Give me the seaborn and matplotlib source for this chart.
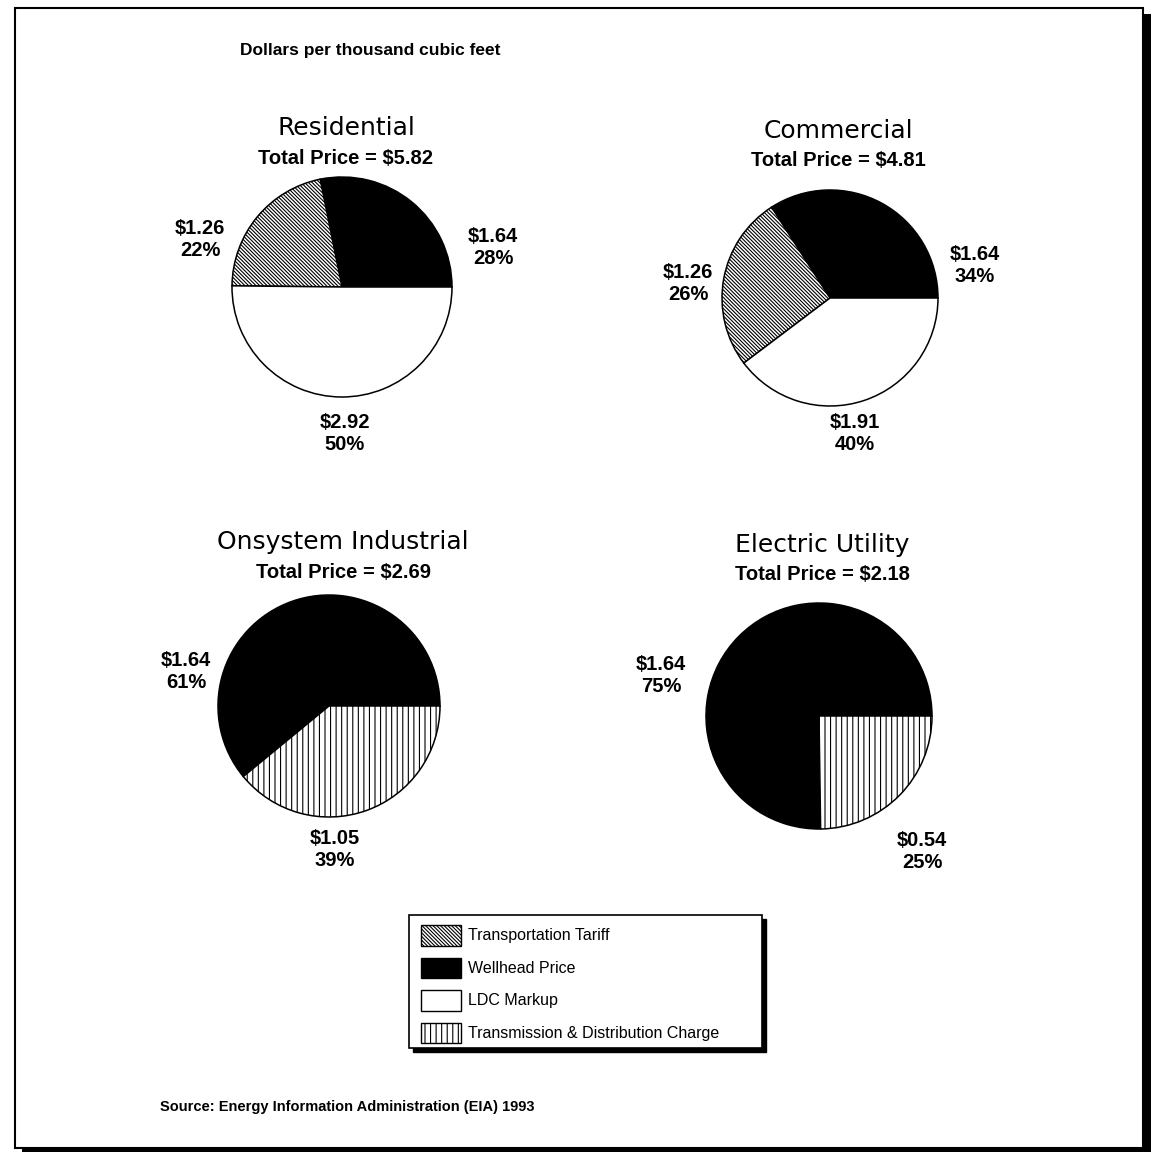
import matplotlib
matplotlib.use("Agg")
import matplotlib.pyplot as plt
from matplotlib.patches import Patch, Rectangle
import seaborn as sns

# ---- data (dollars per thousand cubic feet) ----
sectors = ["Residential", "Commercial", "Onsystem Industrial", "Electric Utility"]
components = ["Transportation Tariff", "Wellhead Price", "LDC Markup",
              "Transmission & Distribution Charge"]

residential_parts = ["Wellhead Price", "Transportation Tariff", "LDC Markup"]
residential_vals = [1.64, 1.26, 2.92]

commercial_parts = ["Wellhead Price", "Transportation Tariff", "LDC Markup"]
commercial_vals = [1.64, 1.26, 1.91]

industrial_parts = ["Wellhead Price", "Transmission & Distribution Charge"]
industrial_vals = [1.64, 1.05]

electric_parts = ["Wellhead Price", "Transmission & Distribution Charge"]
electric_vals = [1.64, 0.54]

source_note = "Source: Energy Information Administration (EIA) 1993"
units_note = "Dollars per thousand cubic feet"

# ---- styling ----
sns.set_theme(style="white")
plt.rcParams["font.family"] = ["Liberation Sans", "DejaVu Sans"]
plt.rcParams["text.color"] = "black"
plt.rcParams["hatch.linewidth"] = 0.8
plt.rcParams["hatch.color"] = "black"

component_style = {
    "Transportation Tariff": dict(facecolor="white", hatch="\\" * 9),
    "Wellhead Price": dict(facecolor="black", hatch=None),
    "LDC Markup": dict(facecolor="white", hatch=None),
    "Transmission & Distribution Charge": dict(facecolor="white", hatch="|||"),
}

W, H = 1152, 1153
fig = plt.figure(figsize=(W / 100, H / 100), dpi=100)
ax = fig.add_axes([0, 0, 1, 1])


def Y(y):
    return H - y


# layout of each pie: centre, radius, title/total positions, label positions
layout = {
    "Residential": dict(center=(342, 287), r=110, title=(346, 128), total=(345, 158),
                        labels=[(493, 247), (200, 240), (345, 433)]),
    "Commercial": dict(center=(830, 298), r=108, title=(838, 131), total=(838, 160),
                       labels=[(975, 266), (688, 284), (855, 434)]),
    "Onsystem Industrial": dict(center=(329, 706), r=111, title=(343, 542), total=(343, 572),
                                labels=[(186, 671), (335, 849)]),
    "Electric Utility": dict(center=(819, 716), r=113, title=(822, 545), total=(822, 574),
                             labels=[(661, 675), (922, 852)]),
}

pie_data = {
    "Residential": (residential_parts, residential_vals),
    "Commercial": (commercial_parts, commercial_vals),
    "Onsystem Industrial": (industrial_parts, industrial_vals),
    "Electric Utility": (electric_parts, electric_vals),
}

for sector in sectors:
    parts, vals = pie_data[sector]
    lay = layout[sector]
    cx, cy = lay["center"]
    total = sum(vals)
    ax.pie(vals,
           colors=[component_style[p]["facecolor"] for p in parts],
           hatch=[component_style[p]["hatch"] or "" for p in parts],
           startangle=0, counterclock=True,
           center=(cx, Y(cy)), radius=lay["r"], frame=True,
           wedgeprops=dict(edgecolor="black", linewidth=1.1))
    tx, ty = lay["title"]
    ax.text(tx, Y(ty), sector, ha="center", va="center",
            fontsize=18, family="DejaVu Sans")
    sx, sy = lay["total"]
    ax.text(sx, Y(sy), f"Total Price = ${total:.2f}", ha="center", va="center",
            fontsize=14.5, fontweight="bold")
    for v, (lx, ly) in zip(vals, lay["labels"]):
        ax.text(lx, Y(ly), f"${v:.2f}\n{100 * v / total:.0f}%", ha="center",
                va="center", fontsize=14.5, fontweight="bold", linespacing=1.2)

# header and source notes
ax.text(240, Y(50), units_note, ha="left", va="center", fontsize=12.5, fontweight="bold")
ax.text(160, Y(1107), source_note, ha="left", va="center", fontsize=10.5,
        fontweight="bold")

# legend box with a drop shadow
bx0, by0, bx1, by1 = 409, 915, 762, 1048
ax.add_patch(Rectangle((bx0 + 4, Y(by1 + 4)), bx1 - bx0, by1 - by0,
                       facecolor="black", edgecolor="black", zorder=3))
ax.add_patch(Rectangle((bx0, Y(by1)), bx1 - bx0, by1 - by0,
                       facecolor="white", edgecolor="black", linewidth=1.2, zorder=4))
handles = [Patch(facecolor=component_style[c]["facecolor"], edgecolor="black",
                 hatch=component_style[c]["hatch"], label=c, linewidth=1.0)
           for c in components]
leg = ax.legend(handles=handles, loc="upper left", bbox_to_anchor=(421, Y(925)),
                bbox_transform=ax.transData, frameon=False, borderpad=0,
                borderaxespad=0, handlelength=2.5, handleheight=1.6,
                labelspacing=0.75, handletextpad=0.45, fontsize=11.5)
leg.set_zorder(5)

# outer frame with heavy right/bottom edge
ax.add_patch(Rectangle((15, Y(1148)), 1128, 1140, fill=False, edgecolor="black",
                       linewidth=1.5, zorder=6))
ax.add_patch(Rectangle((1143, Y(1152)), 8, 1138, facecolor="black", edgecolor="none", zorder=6))
ax.add_patch(Rectangle((22, Y(1152)), 1129, 4, facecolor="black", edgecolor="none", zorder=6))

ax.set_xlim(0, W)
ax.set_ylim(0, H)
ax.set_aspect("auto")
ax.axis("off")

fig.savefig("out.png", dpi=100, facecolor="white")
